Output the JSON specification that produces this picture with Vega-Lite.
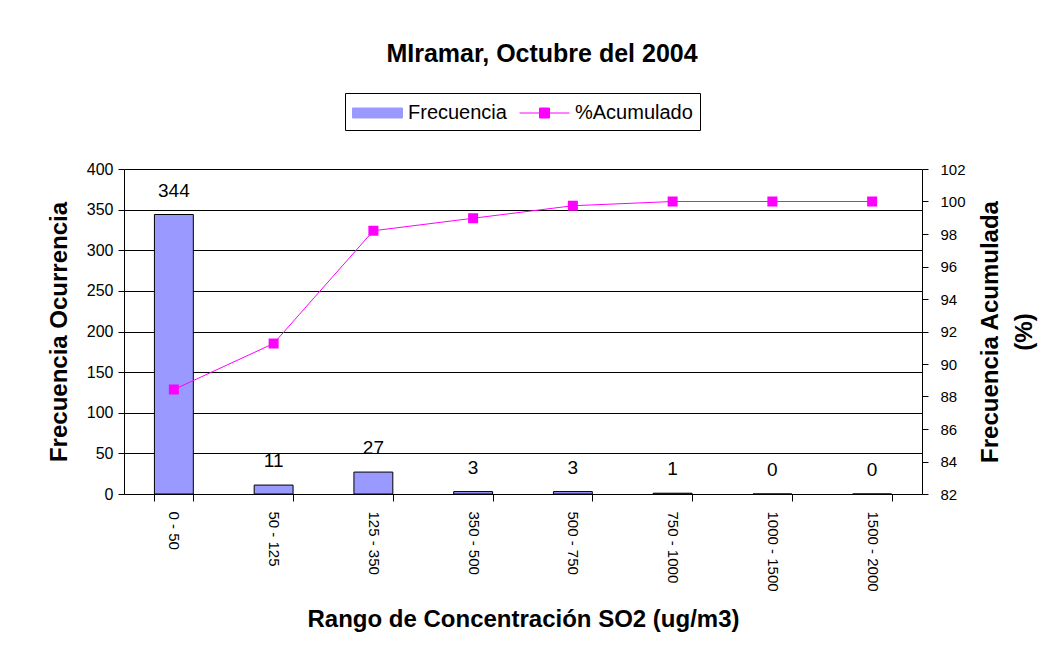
{
  "$schema": "https://vega.github.io/schema/vega-lite/v6.json",
  "width": 798,
  "height": 325,
  "autosize": {"type": "none"},
  "padding": {"left": 124, "top": 169, "right": 136, "bottom": 170},
  "background": "white",
  "config": {
    "view": {"stroke": null},
    "font": "Liberation Sans",
    "axis": {"domainColor": "black", "tickColor": "black", "labelColor": "black", "titleColor": "black", "gridColor": "black", "gridOpacity": 1, "domainWidth": 1, "tickWidth": 1, "gridWidth": 1, "labelFont": "Liberation Sans", "titleFont": "Liberation Sans"}
  },
  "title": {"text": "MIramar, Octubre del 2004", "font": "Liberation Sans", "fontSize": 25, "fontWeight": "bold", "color": "black", "anchor": "middle", "dx": 19, "offset": 26},
  "data": {"values": [
    {"rango": "0 - 50", "frecuencia": 344, "acumulado": 88.43},
    {"rango": "50 - 125", "frecuencia": 11, "acumulado": 91.26},
    {"rango": "125 - 350", "frecuencia": 27, "acumulado": 98.2},
    {"rango": "350 - 500", "frecuencia": 3, "acumulado": 98.97},
    {"rango": "500 - 750", "frecuencia": 3, "acumulado": 99.74},
    {"rango": "750 - 1000", "frecuencia": 1, "acumulado": 100},
    {"rango": "1000 - 1500", "frecuencia": 0, "acumulado": 100},
    {"rango": "1500 - 2000", "frecuencia": 0, "acumulado": 100}
  ]},
  "encoding": {
    "x": {"field": "rango", "type": "nominal", "sort": null,
      "scale": {"paddingInner": 0.61, "paddingOuter": 0.305},
      "axis": {"title": "Rango de Concentración SO2 (ug/m3)", "titleFontSize": 24, "titleFontWeight": "bold", "titlePadding": 16,
        "labelAngle": 90, "labelAlign": "left", "labelBaseline": "middle", "labelFontSize": 15, "labelPadding": 10,
        "tickSize": 7, "tickBand": "extent", "grid": false, "domain": true}}
  },
  "layer": [
    {"layer": [
      {"mark": {"type": "bar", "stroke": "black", "strokeWidth": 1},
        "encoding": {
          "y": {"field": "frecuencia", "type": "quantitative", "scale": {"domain": [0, 400], "nice": false},
            "axis": {"title": "Frecuencia Ocurrencia", "titleFontSize": 24, "titleFontWeight": "bold", "titlePadding": 15,
              "values": [0, 50, 100, 150, 200, 250, 300, 350, 400], "labelFontSize": 16, "labelPadding": 5, "tickSize": 6, "grid": true}},
          "color": {"datum": "Frecuencia", "type": "nominal",
            "scale": {"domain": ["Frecuencia", "%Acumulado"], "range": ["#9999FF", "#FF00FF"]},
            "legend": {"orient": "none", "legendX": 221, "legendY": -76, "direction": "horizontal", "title": null,
              "strokeColor": "black", "fillColor": "white", "padding": 7, "symbolSize": 625,
              "labelFontSize": 20, "labelColor": "black", "labelFont": "Liberation Sans", "labelOffset": 30, "columnPadding": 10,
              "encode": {"symbols": {"update": {
                "shape": {"signal": "datum.value === 'Frecuencia' ? 'M-1,-0.4H3V0.4H-1Z' : 'M-1,0H3M0.6,-0.4H1.4V0.4H0.6Z'"},
                "fill": {"signal": "datum.value === 'Frecuencia' ? '#9999FF' : '#FF00FF'"},
                "stroke": {"signal": "datum.value === 'Frecuencia' ? 'black' : '#FF00FF'"},
                "strokeWidth": {"value": 1},
                "opacity": {"value": 1}}}}}}
        }},
      {"mark": {"type": "text", "baseline": "alphabetic", "dy": -18, "fontSize": 19, "color": "black", "font": "Liberation Sans"},
        "encoding": {
          "y": {"field": "frecuencia", "type": "quantitative"},
          "text": {"field": "frecuencia", "type": "quantitative"}
        }}
    ]},
    {"mark": {"type": "line", "strokeWidth": 1, "point": {"shape": "square", "size": 100, "filled": true}},
      "encoding": {
        "y": {"field": "acumulado", "type": "quantitative", "scale": {"domain": [82, 102], "nice": false},
          "axis": {"orient": "right", "title": ["Frecuencia Acumulada", "(%)"], "titleFontSize": 24, "titleFontWeight": "bold",
            "titleAngle": 270, "titleBaseline": "top", "titleLineHeight": 34, "titlePadding": -21,
            "values": [82, 84, 86, 88, 90, 92, 94, 96, 98, 100, 102], "labelFontSize": 15, "labelPadding": 12, "tickSize": 6, "grid": false,
            "encode": {"ticks": {"update": {"x": {"value": -6}, "x2": {"value": 6}}}}}},
        "color": {"datum": "%Acumulado", "type": "nominal",
            "legend": {"orient": "none", "legendX": 221, "legendY": -76, "direction": "horizontal", "title": null,
              "strokeColor": "black", "fillColor": "white", "padding": 7, "symbolSize": 625,
              "labelFontSize": 20, "labelColor": "black", "labelFont": "Liberation Sans", "labelOffset": 30, "columnPadding": 10,
              "encode": {"symbols": {"update": {
                "shape": {"signal": "datum.value === 'Frecuencia' ? 'M-1,-0.4H3V0.4H-1Z' : 'M-1,0H3M0.6,-0.4H1.4V0.4H0.6Z'"},
                "fill": {"signal": "datum.value === 'Frecuencia' ? '#9999FF' : '#FF00FF'"},
                "stroke": {"signal": "datum.value === 'Frecuencia' ? 'black' : '#FF00FF'"},
                "strokeWidth": {"value": 1},
                "opacity": {"value": 1}}}}}}
      }}
  ],
  "resolve": {"scale": {"y": "independent"}}
}
